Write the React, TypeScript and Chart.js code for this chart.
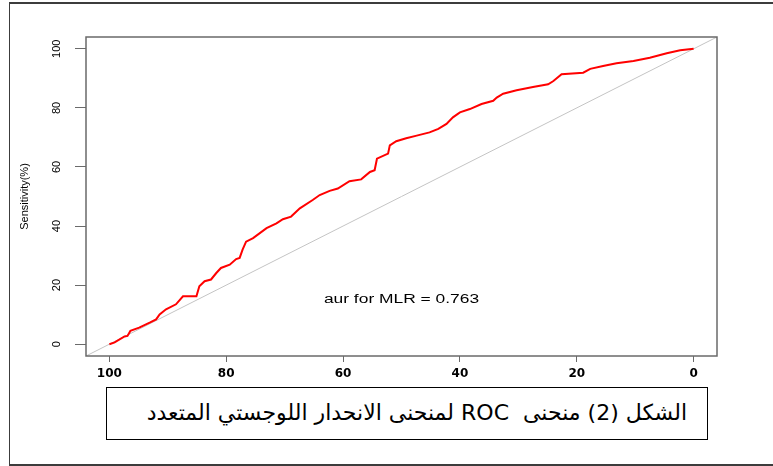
import React, { useEffect, useRef } from "react";
import { Chart, registerables } from "chart.js";

Chart.register(...registerables);

// 100 - specificity (%)
const specificity = [
  100, 99.1, 97.4, 96.9, 96.4, 94.9, 93.1, 92.0, 91.4, 90.3, 88.6, 87.4, 85.1, 84.6, 83.7, 82.6,
  81.7, 80.9, 79.4, 78.3, 77.7, 77.2, 76.6, 75.4, 73.1, 71.4, 70.3, 68.9, 67.4, 65.2, 64.0, 62.3,
  60.9, 58.9, 56.9, 55.4, 54.6, 54.2, 52.3, 52.0, 50.9, 49.2, 47.4, 45.2, 43.7, 42.3, 41.2, 40.0,
  38.3, 36.3, 34.3, 33.7, 32.6, 30.3, 27.5, 24.9, 24.0, 22.6, 18.9, 17.7, 15.5, 13.2, 10.3, 7.5,
  4.6, 2.3, 0,
];
const sensitivity = [
  0, 0.6, 2.6, 2.8, 4.5, 5.6, 7.3, 8.4, 10.1, 11.8, 13.5, 16.2, 16.2, 19.6, 21.3, 21.9,
  24.1, 25.8, 26.9, 28.8, 29.2, 32.0, 34.7, 35.9, 39.3, 40.9, 42.3, 43.2, 46.0, 48.8, 50.5, 51.9,
  52.7, 55.2, 55.8, 58.3, 58.9, 62.8, 64.5, 67.3, 68.7, 69.7, 70.6, 71.7, 72.9, 74.6, 76.8, 78.5,
  79.6, 81.3, 82.4, 83.5, 84.8, 86.0, 87.1, 88.0, 89.1, 91.4, 91.9, 93.2, 94.2, 95.1, 95.9, 97.0,
  98.5, 99.5, 100,
];
const diagonalX = [104, -4];
const diagonalY = [-4, 104];
const xTickValues = [0, 20, 40, 60, 80, 100];
const yTickValues = [0, 20, 40, 60, 80, 100];
const axisMin = -4;
const axisMax = 104;
const yTitle = "Sensitivity(%)";
const annotationText = "aur for MLR = 0.763";
const annotationX = 50;
const annotationY = 15;
const captionText = "الشكل (2) منحنى  ROC لمنحنى الانحدار اللوجستي المتعدد";

const boxPlugin = {
  id: "rbox",
  afterDatasetsDraw(chart: any) {
    const { ctx, chartArea, scales } = chart;
    const { left, top, right, bottom } = chartArea;
    ctx.save();
    ctx.strokeStyle = "#6a6a6a";
    ctx.lineWidth = 1.5;
    ctx.strokeRect(left, top, right - left, bottom - top);
    const px = scales.x.getPixelForValue(annotationX);
    const py = scales.y.getPixelForValue(annotationY);
    ctx.font = '12px "Liberation Sans", Arial, sans-serif';
    ctx.fillStyle = "#000";
    ctx.textAlign = "center";
    ctx.textBaseline = "middle";
    ctx.translate(px, py);
    ctx.scale(1.45, 1);
    ctx.fillText(annotationText, 0, 0);
    ctx.restore();
  },
};

export default function App() {
  const canvasRef = useRef<HTMLCanvasElement | null>(null);

  useEffect(() => {
    if (!canvasRef.current) return;
    const chart = new Chart(canvasRef.current, {
      type: "line",
      data: {
        datasets: [
          {
            label: "ROC",
            data: specificity.map((x, i) => ({ x, y: sensitivity[i] })),
            borderColor: "#ff0000",
            borderWidth: 2,
            pointRadius: 0,
            tension: 0,
            fill: false,
          },
          {
            label: "diagonal",
            data: diagonalX.map((x, i) => ({ x, y: diagonalY[i] })),
            borderColor: "#c4c4c4",
            borderWidth: 1,
            pointRadius: 0,
            fill: false,
          },
        ],
      },
      options: {
        responsive: false,
        animation: false,
        devicePixelRatio: 1,
        layout: { padding: { left: 0, top: 37, right: 56, bottom: 0 } },
        plugins: { legend: { display: false }, tooltip: { enabled: false } },
        scales: {
          x: {
            type: "linear",
            reverse: true,
            min: axisMin,
            max: axisMax,
            afterBuildTicks: (s: any) => {
              s.ticks = xTickValues.map((v) => ({ value: v }));
            },
            afterFit: (s: any) => {
              s.height = 110;
            },
            grid: { drawOnChartArea: false, drawTicks: true, tickLength: 6, color: "#6a6a6a", lineWidth: 1 },
            border: { display: false },
            ticks: {
              autoSkip: false,
              maxRotation: 0,
              color: "#000",
              padding: 5,
              font: { family: "DejaVu Sans", size: 12, weight: "bold" },
            },
          },
          y: {
            type: "linear",
            min: axisMin,
            max: axisMax,
            afterBuildTicks: (s: any) => {
              s.ticks = yTickValues.map((v) => ({ value: v }));
            },
            afterFit: (s: any) => {
              s.width = 86;
            },
            grid: { drawOnChartArea: false, drawTicks: true, tickLength: 11, color: "#6a6a6a", lineWidth: 1 },
            border: { display: false },
            ticks: {
              autoSkip: false,
              minRotation: 90,
              maxRotation: 90,
              crossAlign: "center",
              padding: 9,
              color: "#000",
              font: { family: "Liberation Sans", size: 11 },
            },
            title: {
              display: true,
              text: yTitle,
              color: "#000",
              font: { family: "Liberation Sans", size: 11 },
              padding: { top: 18, bottom: 0 },
            },
          },
        },
      },
      plugins: [boxPlugin],
    } as any);
    return () => chart.destroy();
  }, []);

  return (
    <div
      style={{
        position: "fixed",
        left: 0,
        top: 0,
        width: 773,
        height: 466,
        overflow: "hidden",
        background: "#fff",
      }}
    >
      <canvas ref={canvasRef} width={773} height={466} style={{ position: "absolute", left: 0, top: 0 }} />
      <div
        style={{
          position: "absolute",
          left: 9,
          top: 2,
          width: 820,
          height: 464,
          boxSizing: "border-box",
          borderLeft: "1px solid #3c3c3c",
          borderTop: "2px solid #3c3c3c",
          borderBottom: "2px solid #3c3c3c",
          pointerEvents: "none",
        }}
      />
      <div
        dir="rtl"
        style={{
          position: "absolute",
          left: 106,
          top: 387,
          width: 602,
          height: 53,
          boxSizing: "border-box",
          border: "1.5px solid #000",
          background: "#fff",
          fontFamily: '"DejaVu Sans", sans-serif',
          fontSize: 22,
          lineHeight: "50px",
          paddingRight: 20,
          whiteSpace: "pre",
          color: "#000",
          textAlign: "right",
        }}
      >
        {captionText}
      </div>
    </div>
  );
}
